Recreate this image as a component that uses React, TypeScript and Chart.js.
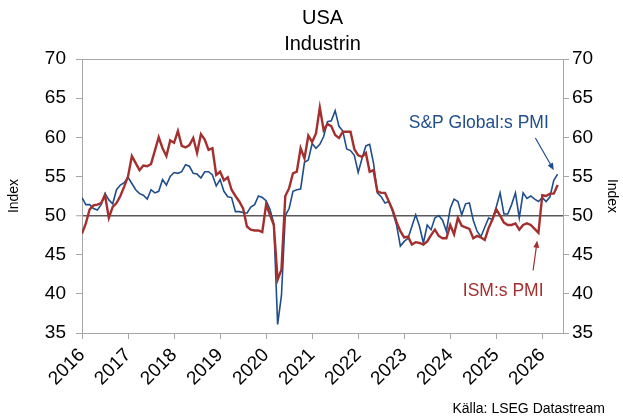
import React, { useEffect, useRef } from 'react';
import { Chart, registerables } from 'chart.js';

Chart.register(...registerables);

// Monthly values, January 2016 onwards
const startYear = 2016;

const ismPMI = [
  47.7, 49.0, 50.8, 51.3, 51.4, 51.6, 52.6, 49.7, 51.1, 51.6, 52.5, 53.7,
  55.0, 57.6, 56.7, 55.8, 56.4, 56.3, 56.6, 58.3, 60.0, 58.6, 57.6, 59.6,
  59.3, 60.8, 58.9, 58.7, 59.0, 59.9, 58.0, 60.4, 59.7, 58.4, 58.6, 55.2,
  55.6, 54.5, 54.9, 53.3, 52.5, 51.8, 50.9, 48.6, 48.2, 48.1, 48.1, 47.9,
  51.4, 50.1, 48.8, 41.8, 43.1, 52.5, 53.5, 55.4, 55.6, 58.6, 57.3, 60.2,
  59.4, 60.5, 63.8, 60.9, 61.7, 61.4, 60.3, 59.9, 60.7, 60.7, 60.7, 58.5,
  57.7, 57.5, 58.0, 55.6, 55.8, 53.1, 52.9, 52.9, 51.8, 50.7, 49.2, 48.0,
  47.2, 47.3, 46.3, 46.6, 46.5, 46.3, 46.7, 47.5, 48.2, 47.4, 47.1, 47.1,
  48.8, 47.6, 49.7, 48.7, 48.5, 48.3, 47.1, 47.4, 47.2, 46.9, 48.4, 49.5,
  50.8, 50.0, 49.1, 48.8, 48.8, 49.0, 48.2, 48.8, 49.0, 48.8, 48.3, 47.8,
  52.6, 52.5, 52.8, 52.8, 53.9,
];

const spGlobalPMI = [
  52.3, 51.4, 51.4, 50.9, 50.7, 51.4, 52.8, 52.0, 51.5, 53.3, 53.9, 54.2,
  54.9, 54.1, 53.3, 52.8, 52.6, 52.1, 53.3, 52.9, 53.1, 54.6, 53.9, 55.0,
  55.5, 55.4, 55.6, 56.5, 56.3, 55.4, 55.3, 54.8, 55.6, 55.6, 55.2, 53.8,
  54.6, 53.1, 52.4, 52.3, 50.5, 50.5, 50.4, 50.3, 51.1, 51.4, 52.5, 52.3,
  51.9, 50.8, 49.0, 36.1, 39.8, 50.0, 50.9, 53.1, 53.3, 53.4, 56.8, 57.1,
  59.2, 58.6, 59.1, 60.1, 62.0, 62.1, 63.4, 61.4, 60.8, 58.5, 58.3, 57.7,
  55.5, 57.3, 58.9, 59.1, 56.7, 52.9, 52.4, 51.6, 51.8, 50.5, 48.8, 46.1,
  46.7, 47.1, 48.6, 50.1, 48.6, 46.5, 48.8, 48.2, 49.7, 50.0, 49.4, 48.0,
  50.9, 52.1, 51.8, 50.1, 51.5, 51.6, 49.4, 48.0, 47.3, 48.5, 49.7, 49.5,
  51.1, 52.9, 50.2, 50.2, 51.4, 52.9, 49.7, 52.9, 52.2, 52.5, 52.1, 51.8,
  52.3, 51.8, 52.4, 54.5, 55.3,
];

const yearTicks = [2016, 2017, 2018, 2019, 2020, 2021, 2022, 2023, 2024, 2025, 2026];
const yTicks = [35, 40, 45, 50, 55, 60, 65, 70];

const titleLines = ['USA', 'Industrin'];
const spLabel = 'S&P Global:s PMI';
const ismLabel = 'ISM:s PMI';
const sourceText = 'Källa: LSEG Datastream';

const BLUE = '#1F4E8A';
const RED = '#A3302F';
const AXIS = '#A6A6A6';
const FONT = '"Liberation Sans", Arial, sans-serif';

const toPoints = (vals: number[]) => vals.map((v, i) => ({ x: startYear + i / 12, y: v }));

// annotation anchors in data space
const spText = { x: 2024.62, y: 61.85 };
const spArrow = { from: { x: 2025.85, y: 59.9 }, to: { x: 2026.25, y: 55.8 } };
const ismText = { x: 2025.15, y: 40.4 };
const ismArrow = { from: { x: 2025.8, y: 43.0 }, to: { x: 2025.89, y: 46.8 } };

function arrow(ctx: CanvasRenderingContext2D, x1: number, y1: number, x2: number, y2: number, color: string) {
  const ang = Math.atan2(y2 - y1, x2 - x1);
  const head = 7;
  ctx.save();
  ctx.strokeStyle = color;
  ctx.fillStyle = color;
  ctx.lineWidth = 1.2;
  ctx.beginPath();
  ctx.moveTo(x1, y1);
  ctx.lineTo(x2 - Math.cos(ang) * head * 0.8, y2 - Math.sin(ang) * head * 0.8);
  ctx.stroke();
  ctx.beginPath();
  ctx.moveTo(x2, y2);
  ctx.lineTo(x2 - head * Math.cos(ang) + 3 * Math.sin(ang), y2 - head * Math.sin(ang) - 3 * Math.cos(ang));
  ctx.lineTo(x2 - head * Math.cos(ang) - 3 * Math.sin(ang), y2 - head * Math.sin(ang) + 3 * Math.cos(ang));
  ctx.closePath();
  ctx.fill();
  ctx.restore();
}

const annotationPlugin = {
  id: 'annotations',
  afterDatasetsDraw(chart: any) {
    const { ctx, scales } = chart;
    const xs = scales.x;
    const ys = scales.y;
    const px = (p: { x: number; y: number }) => [xs.getPixelForValue(p.x), ys.getPixelForValue(p.y)];
    ctx.save();
    ctx.font = `17.5px ${FONT}`;
    ctx.textAlign = 'center';
    ctx.textBaseline = 'middle';
    const [sx, sy] = px(spText);
    ctx.fillStyle = BLUE;
    ctx.fillText(spLabel, sx, sy);
    const [ix, iy] = px(ismText);
    ctx.fillStyle = RED;
    ctx.fillText(ismLabel, ix, iy);
    const [a1, b1] = px(spArrow.from);
    const [a2, b2] = px(spArrow.to);
    arrow(ctx, a1, b1, a2, b2, BLUE);
    const [c1, d1] = px(ismArrow.from);
    const [c2, d2] = px(ismArrow.to);
    arrow(ctx, c1, d1, c2, d2, RED);
    ctx.restore();
  },
  afterDraw(chart: any) {
    const { ctx, chartArea } = chart;
    ctx.save();
    // titles, centred over the plot area
    ctx.font = `20px ${FONT}`;
    ctx.fillStyle = '#000';
    ctx.textAlign = 'center';
    ctx.textBaseline = 'middle';
    const cx = (chartArea.left + chartArea.right) / 2;
    ctx.fillText(titleLines[0], cx, 18);
    ctx.fillText(titleLines[1], cx, 44);
    // source
    ctx.font = `14px ${FONT}`;
    ctx.textAlign = 'right';
    ctx.fillText(sourceText, chart.width - 18, chart.height - 8);
    ctx.restore();
  },
};

export default function App() {
  const ref = useRef<HTMLCanvasElement | null>(null);

  useEffect(() => {
    if (!ref.current) return;
    const yAxisCommon = {
      type: 'linear' as const,
      min: 35,
      max: 70,
      afterBuildTicks: (s: any) => {
        s.ticks = yTicks.map((v) => ({ value: v }));
      },
      border: { display: true, color: AXIS, width: 1 },
    };
    const chart = new Chart(ref.current, {
      type: 'line',
      data: {
        datasets: [
          {
            label: 'ISM',
            data: toPoints(ismPMI),
            borderColor: RED,
            backgroundColor: RED,
            borderWidth: 2.4,
            pointRadius: 0,
            tension: 0,
            order: 1,
          },
          {
            label: 'S&P Global',
            data: toPoints(spGlobalPMI),
            borderColor: BLUE,
            backgroundColor: BLUE,
            borderWidth: 1.6,
            pointRadius: 0,
            tension: 0,
            order: 2,
          },
        ],
      },
      options: {
        responsive: false,
        animation: false,
        devicePixelRatio: 1,
        layout: { padding: { top: 59, left: 0, right: 0, bottom: 0 } },
        plugins: {
          legend: { display: false },
          tooltip: { enabled: false },
          title: { display: false },
        },
        scales: {
          x: {
            type: 'linear',
            position: 'bottom',
            min: 2016,
            max: 2026.45,
            afterBuildTicks: (s: any) => {
              s.ticks = yearTicks.map((v) => ({ value: v }));
            },
            afterFit: (s: any) => {
              s.height = 84;
            },
            ticks: {
              autoSkip: false,
              maxRotation: 45,
              minRotation: 45,
              color: '#000',
              padding: 5,
              font: { size: 19, family: FONT },
              callback: (v: any) => String(v),
            },
            grid: { drawOnChartArea: false, drawTicks: true, tickLength: 6, color: AXIS },
            border: { display: true, color: AXIS, width: 1 },
          },
          xTop: {
            type: 'linear',
            position: 'top',
            min: 2016,
            max: 2026.45,
            ticks: { display: false },
            grid: { display: false },
            border: { display: true, color: AXIS, width: 1 },
            afterFit: (s: any) => {
              s.height = 0;
            },
          },
          y: {
            ...yAxisCommon,
            position: 'left',
            afterFit: (s: any) => {
              s.width = 82;
            },
            ticks: { color: '#000', padding: 10, font: { size: 19, family: FONT } },
            grid: {
              drawOnChartArea: true,
              drawTicks: true,
              tickLength: 6,
              color: (c: any) => (c.tick && c.tick.value === 50 ? '#595959' : 'rgba(0,0,0,0)'),
              lineWidth: (c: any) => (c.tick && c.tick.value === 50 ? 1.5 : 1),
              tickColor: AXIS,
              tickWidth: 1,
            },
            title: {
              display: true,
              text: 'Index',
              color: '#000',
              font: { size: 14, family: FONT },
              padding: { top: 6, bottom: 0 },
            },
          },
          y2: {
            ...yAxisCommon,
            position: 'right',
            afterFit: (s: any) => {
              s.width = 60;
            },
            ticks: { color: '#000', padding: 3, font: { size: 19, family: FONT } },
            grid: { drawOnChartArea: false, drawTicks: true, tickLength: 6, color: AXIS },
            title: {
              display: true,
              text: 'Index',
              color: '#000',
              font: { size: 14, family: FONT },
              padding: { top: 3, bottom: 0 },
            },
          },
        },
      } as any,
      plugins: [annotationPlugin],
    });
    return () => chart.destroy();
  }, []);

  return (
    <div style={{ position: 'absolute', left: 0, top: 0, width: 623, height: 417, background: '#fff' }}>
      <canvas ref={ref} width={623} height={417} style={{ width: 623, height: 417 }} />
    </div>
  );
}
